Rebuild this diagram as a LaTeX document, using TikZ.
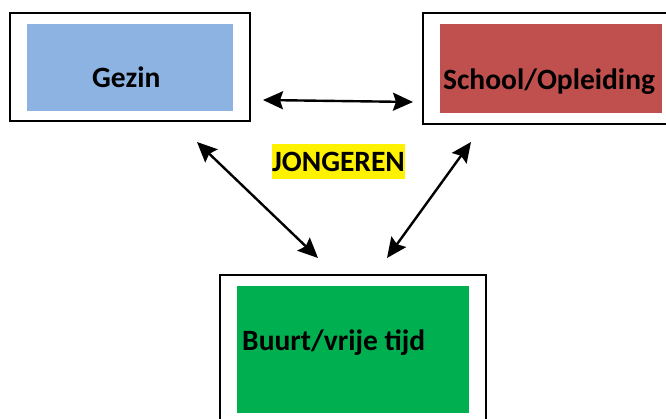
\documentclass[tikz,border=0pt]{standalone}
\usepackage{fontspec}
\setmainfont{Carlito}
\usetikzlibrary{arrows.meta}
\definecolor{gezinblue}{RGB}{141,179,226}
\definecolor{schoolred}{RGB}{192,80,77}
\definecolor{buurtgreen}{RGB}{0,176,80}
\tikzset{
  frame/.style={draw=black, line width=1.8pt, fill=white, inner sep=0pt},
  field/.style={inner sep=0pt},
  label text/.style={font=\fontsize{29.5}{32}\selectfont\bfseries, inner sep=0pt},
  link/.style={line width=2.4pt, >={Stealth[length=20pt,width=18pt,inset=3pt]}, <->}
}
\begin{document}
\begin{tikzpicture}[x=1pt, y=-1pt]
    \useasboundingbox (0,0) rectangle (666,419);

    % frames
    \node[frame, minimum width=240pt, minimum height=108pt] (gezinR) at (130,67) {};
    \node[frame, minimum width=250pt, minimum height=111pt] (schoolR) at (548,68.5) {};
    \node[frame, minimum width=266pt, minimum height=160pt] (buurtR) at (353,355) {};

    % coloured fields
    \node[field, fill=gezinblue, minimum width=206pt, minimum height=87pt] (gezin) at (130,67.5) {};
    \node[field, fill=schoolred, minimum width=222pt, minimum height=89pt] (school) at (551,68.5) {};
    \node[field, fill=buurtgreen, minimum width=232pt, minimum height=127pt] (buurt) at (353,349.5) {};

    % texts
    \node[label text, anchor=base west] (gezinT) at (92,88) {Gezin};
    \node[label text, anchor=base west] (schoolT) at (443,90) {School/Opleiding};
    \node[label text, anchor=base west] (buurtT) at (242,350) {Buurt/vrije tijd};
    \node[label text, fill=yellow, minimum width=133pt, minimum height=35pt] (jong) at (338.5,161.5) {JONGEREN};

    % arrow ends
    \coordinate (A) at (263,100);
    \coordinate (B) at (413,102);
    \coordinate (C) at (197,142);
    \coordinate (D) at (318,258);
    \coordinate (E) at (471,142);
    \coordinate (F) at (387,258);

    \draw[link] (A) -- (B);
    \draw[link] (C) -- (D);
    \draw[link] (E) -- (F);
\end{tikzpicture}
\end{document}
